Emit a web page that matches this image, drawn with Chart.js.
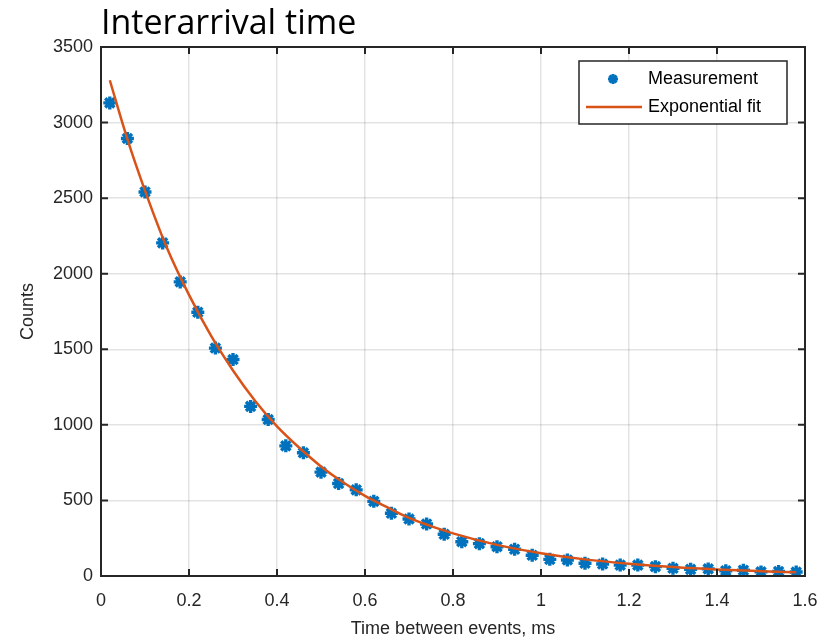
<!DOCTYPE html>
<html>
<head>
<meta charset="utf-8">
<style>
  html, body { margin: 0; padding: 0; background: #ffffff; }
  #wrap { width: 838px; height: 640px; position: relative; }
</style>
<script src="https://cdn.jsdelivr.net/npm/chart.js@4/dist/chart.umd.min.js"></script>
</head>
<body>
<div id="wrap"><canvas id="c" width="838" height="640"></canvas></div>
<script>
// ---- Data ----
const chartTitle = "Interarrival time";
const xAxisTitle = "Time between events, ms";
const yAxisTitle = "Counts";
const measurementLabel = "Measurement";
const fitLabel = "Exponential fit";

const measX = [0.02,0.06,0.10,0.14,0.18,0.22,0.26,0.30,0.34,0.38,
               0.42,0.46,0.50,0.54,0.58,0.62,0.66,0.70,0.74,0.78,
               0.82,0.86,0.90,0.94,0.98,1.02,1.06,1.10,1.14,1.18,
               1.22,1.26,1.30,1.34,1.38,1.42,1.46,1.50,1.54,1.58];
const measY = [3130,2895,2541,2204,1946,1745,1508,1432,1122,1035,
               861,815,687,612,570,494,415,377,344,276,
               227,214,194,177,137,110,106,84,79,72,
               72,62,51,44,47,35,38,27,30,26];

const fitX = [0.02,0.06,0.10,0.15,0.20,0.25,0.30,0.35,0.40,0.45,0.50,0.55,0.60,0.65,0.70,0.75,
              0.80,0.90,1.00,1.10,1.20,1.30,1.40,1.50,1.58];
const fitY = [3280,2890,2550,2170,1860,1590,1360,1160,990,850,725,620,530,455,385,330,
              282,206,151,110,81,59,43,32,25];

const xTicks = [0,0.2,0.4,0.6,0.8,1,1.2,1.4,1.6];
const yTicks = [0,500,1000,1500,2000,2500,3000,3500];

const measColor = "#0072BD";
const fitColor = "#D95319";
const axisColor = "#262626";
const gridColor = "rgba(38,38,38,0.13)";
const tickFont = { family: "'Liberation Sans', Arial, sans-serif", size: 18 };

const PLOT_LEFT = 101, PLOT_TOP = 47, PLOT_RIGHT = 805, PLOT_BOTTOM = 576;
const W = 838, H = 640;

const framePlugin = {
  id: 'frame',
  afterDraw(chart) {
    const ctx = chart.ctx;
    const a = chart.chartArea;
    const xs = chart.scales.x, ys = chart.scales.y;
    ctx.save();
    ctx.strokeStyle = axisColor;
    ctx.lineWidth = 2;
    ctx.strokeRect(a.left, a.top, a.right - a.left, a.bottom - a.top);
    // inward ticks, all four sides
    const tl = 7;
    ctx.beginPath();
    xTicks.forEach(v => {
      const px = xs.getPixelForValue(v);
      ctx.moveTo(px, a.bottom); ctx.lineTo(px, a.bottom - tl);
      ctx.moveTo(px, a.top); ctx.lineTo(px, a.top + tl);
    });
    yTicks.forEach(v => {
      const py = ys.getPixelForValue(v);
      ctx.moveTo(a.left, py); ctx.lineTo(a.left + tl, py);
      ctx.moveTo(a.right, py); ctx.lineTo(a.right - tl, py);
    });
    ctx.stroke();

    // title
    ctx.fillStyle = "#000000";
    ctx.font = "34px 'Open Sans', Lato, sans-serif";
    ctx.textAlign = "left";
    ctx.textBaseline = "middle";
    ctx.fillText(chartTitle, 101, 24);

    // legend
    const lx = 579, ly = 61, lw = 208, lh = 63;
    ctx.fillStyle = "#ffffff";
    ctx.fillRect(lx, ly, lw, lh);
    ctx.strokeStyle = axisColor;
    ctx.lineWidth = 1.5;
    ctx.strokeRect(lx, ly, lw, lh);
    ctx.font = "18px 'Liberation Sans', Arial, sans-serif";
    ctx.fillStyle = "#000000";
    ctx.textBaseline = "middle";
    ctx.fillText(chart.data.datasets[0].label, 648, 79);
    ctx.fillText(chart.data.datasets[1].label, 648, 107);
    // marker sample
    drawStar(ctx, 613, 79, 5, measColor);
    ctx.strokeStyle = fitColor;
    ctx.lineWidth = 2.5;
    ctx.beginPath();
    ctx.moveTo(586, 107); ctx.lineTo(642, 107);
    ctx.stroke();
    ctx.restore();
  }
};

function drawStar(ctx, x, y, r, color) {
  ctx.save();
  ctx.strokeStyle = color;
  ctx.lineWidth = 3;
  ctx.beginPath();
  for (let i = 0; i < 4; i++) {
    const ang = i * Math.PI / 4;
    ctx.moveTo(x - r * Math.cos(ang), y - r * Math.sin(ang));
    ctx.lineTo(x + r * Math.cos(ang), y + r * Math.sin(ang));
  }
  ctx.stroke();
  ctx.restore();
}

new Chart(document.getElementById('c'), {
  type: 'scatter',
  data: {
    datasets: [
      {
        label: measurementLabel,
        data: measX.map((x, i) => ({ x: x, y: measY[i] })),
        pointStyle: 'star',
        radius: 6.5,
        borderWidth: 3.4,
        borderColor: measColor,
        backgroundColor: measColor,
        showLine: false,
        order: 2
      },
      {
        label: fitLabel,
        data: fitX.map((x, i) => ({ x: x, y: fitY[i] })),
        showLine: true,
        borderColor: fitColor,
        backgroundColor: fitColor,
        borderWidth: 2.5,
        pointRadius: 0,
        cubicInterpolationMode: 'monotone',
        order: 1
      }
    ]
  },
  options: {
    responsive: false,
    animation: false,
    devicePixelRatio: 1,
    layout: { padding: { left: 0, top: PLOT_TOP, right: W - PLOT_RIGHT, bottom: 0 } },
    plugins: {
      legend: { display: false },
      tooltip: { enabled: false },
      title: { display: false }
    },
    scales: {
      x: {
        type: 'linear',
        min: 0, max: 1.6,
        afterBuildTicks(scale) { scale.ticks = xTicks.map(v => ({ value: v })); },
        afterFit(scale) { scale.height = H - PLOT_BOTTOM; },
        ticks: {
          color: axisColor, font: tickFont, padding: 14, maxRotation: 0,
          callback: v => String(v)
        },
        grid: { color: gridColor, lineWidth: 1.5, drawTicks: false },
        border: { display: false },
        title: {
          display: true, text: xAxisTitle, color: axisColor,
          font: { family: "'Liberation Sans', Arial, sans-serif", size: 18 },
          padding: { top: 6, bottom: 0 }
        }
      },
      y: {
        type: 'linear',
        min: 0, max: 3500,
        afterBuildTicks(scale) { scale.ticks = yTicks.map(v => ({ value: v })); },
        afterFit(scale) { scale.width = PLOT_LEFT; },
        ticks: { color: axisColor, font: tickFont, padding: 8, callback: v => String(v) },
        grid: { color: gridColor, lineWidth: 1.5, drawTicks: false },
        border: { display: false },
        title: {
          display: true, text: yAxisTitle, color: axisColor,
          font: { family: "'Liberation Sans', Arial, sans-serif", size: 18 },
          padding: { top: 17, bottom: 0 }
        }
      }
    }
  },
  plugins: [framePlugin]
});
</script>
</body>
</html>
